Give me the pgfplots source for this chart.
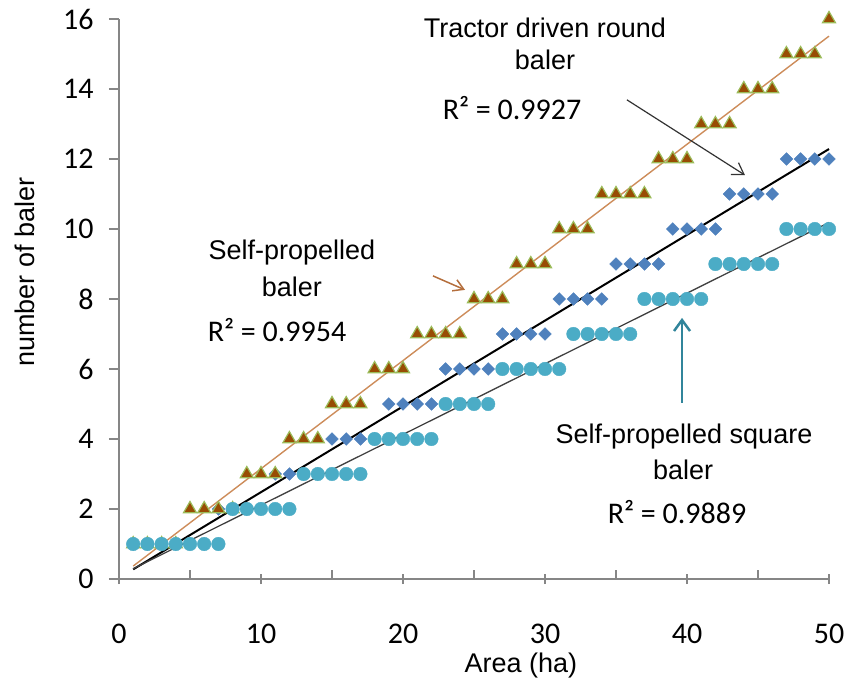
\documentclass[border=0pt]{standalone}
\usepackage{pgfplots}
\usepackage{pgfplotstable}
\pgfplotsset{compat=1.18}
\usetikzlibrary{arrows.meta}
\usepackage{fontspec}
\setmainfont{Liberation Sans}
\newfontfamily\calibri{Carlito}

\definecolor{axgray}{RGB}{134,134,134}
\definecolor{tribrown}{RGB}{152,76,4}
\definecolor{triedge}{RGB}{155,187,89}
\definecolor{dblue}{RGB}{79,129,189}
\definecolor{cteal}{RGB}{75,172,198}
\definecolor{trorange}{RGB}{205,140,90}
\definecolor{trgray}{RGB}{64,64,64}
\definecolor{arrteal}{RGB}{49,133,155}
\definecolor{arrbrown}{RGB}{180,110,60}

% self-propelled baler (triangles)
\pgfplotstableread{
x y
1 1
2 1
3 1
4 1
5 2
6 2
7 2
8 2
9 3
10 3
11 3
12 4
13 4
14 4
15 5
16 5
17 5
18 6
19 6
20 6
21 7
22 7
23 7
24 7
25 8
26 8
27 8
28 9
29 9
30 9
31 10
32 10
33 10
34 11
35 11
36 11
37 11
38 12
39 12
40 12
41 13
42 13
43 13
44 14
45 14
46 14
47 15
48 15
49 15
50 16
}\selfprop

% tractor driven round baler (diamonds)
\pgfplotstableread{
x y
1 1
2 1
3 1
4 1
5 1
6 1
7 2
8 2
9 2
10 2
11 3
12 3
13 3
14 3
15 4
16 4
17 4
18 4
19 5
20 5
21 5
22 5
23 6
24 6
25 6
26 6
27 7
28 7
29 7
30 7
31 8
32 8
33 8
34 8
35 9
36 9
37 9
38 9
39 10
40 10
41 10
42 10
43 11
44 11
45 11
46 11
47 12
48 12
49 12
50 12
}\tractor

% self-propelled square baler (circles)
\pgfplotstableread{
x y
1 1
2 1
3 1
4 1
5 1
6 1
7 1
8 2
9 2
10 2
11 2
12 2
13 3
14 3
15 3
16 3
17 3
18 4
19 4
20 4
21 4
22 4
23 5
24 5
25 5
26 5
27 6
28 6
29 6
30 6
31 6
32 7
33 7
34 7
35 7
36 7
37 8
38 8
39 8
40 8
41 8
42 9
43 9
44 9
45 9
46 9
47 10
48 10
49 10
50 10
}\square

\tikzset{
  txt/.style={font=\fontsize{27}{32}\selectfont},
  rsq/.style={font=\calibri\fontsize{30}{34}\selectfont},
}

\begin{document}
\begin{tikzpicture}
\begin{axis}[
  scale only axis,
  width=710pt, height=560pt,
  xmin=0, xmax=50, ymin=0, ymax=16,
  axis x line*=bottom, axis y line*=left,
  axis line style={draw=axgray, line width=1.3pt},
  xtick={0,10,...,50}, minor xtick={5,15,...,45},
  ytick={0,2,...,16},
  tick align=outside,
  major tick length=10pt, minor tick length=9pt,
  tick style={draw=axgray, line width=1.3pt},
  major x tick style={yshift=5pt},
  minor x tick style={yshift=9pt},
  /pgf/number format/assume math mode=true,
  tick label style={font=\calibri\fontsize{30}{34}\selectfont},
  xticklabel style={yshift=-31pt},
  yticklabel style={xshift=-12pt},
  xlabel={Area (ha)}, ylabel={number of baler},
  every axis x label/.style={at={(rel axis cs:0.566,-0.155)}, anchor=center, txt},
  every axis y label/.style={at={(rel axis cs:-0.132,0.548)}, rotate=90, anchor=center, txt},
  clip=false,
]
\addplot [only marks, mark=square*, mark size=4.5pt,
  mark options={rotate=45, fill=dblue, draw=dblue}] table [x=x, y=y] {\tractor};
\addplot [only marks, mark=triangle*, mark size=7.5pt,
  mark options={fill=tribrown, draw=triedge, line width=1.2pt}] table [x=x, y=y] {\selfprop};
\addplot [only marks, mark=*, mark size=6.8pt,
  mark options={fill=cteal, draw=cteal}] table [x=x, y=y] {\square};

\addplot [no markers, draw=trorange, line width=1.4pt]
  table [x=x, y={create col/linear regression={y=y}}] {\selfprop};
\addplot [no markers, draw=black, line width=2pt]
  table [x=x, y={create col/linear regression={y=y}}] {\tractor};
\addplot [no markers, draw=trgray, line width=1.3pt]
  table [x=x, y={create col/linear regression={y=y}}] {\square};

\coordinate (ll) at (rel axis cs:0,0);
\coordinate (ur) at (rel axis cs:1,1);

\node[txt] at (axis cs:30.0,15.74) {Tractor driven round};
\node[txt] at (axis cs:30.0,14.83) {baler};
\node[txt] at (axis cs:12.18,9.34) {Self-propelled};
\node[txt] at (axis cs:12.18,8.34) {baler};
\node[txt] at (axis cs:39.79,4.06) {Self-propelled square};
\node[txt] at (axis cs:39.72,3.11) {baler};
\node[rsq] at (axis cs:27.68,13.46) {R² = 0.9927};
\node[rsq] at (axis cs:11.13,7.11) {R² = 0.9954};
\node[rsq] at (axis cs:39.3,1.91) {R² = 0.9889};

\draw[-{Straight Barb[length=11pt,width=14pt]}, draw=black!80, line width=1.2pt]
  (axis cs:35.77,13.69) -- (axis cs:44.08,11.54);
\draw[-{Straight Barb[length=10pt,width=12pt]}, draw=arrbrown, line width=1.5pt]
  (axis cs:22.11,8.66) -- (axis cs:24.37,8.26);
\draw[-{Straight Barb[length=11pt,width=16pt]}, draw=arrteal, line width=2.5pt]
  (axis cs:39.65,5.03) -- (axis cs:39.65,7.46);
\end{axis}
\pgfresetboundingbox
\path[use as bounding box] ([shift={(-119pt,-103pt)}]ll) rectangle ([shift={(33pt,19pt)}]ur);
\end{tikzpicture}
\end{document}
